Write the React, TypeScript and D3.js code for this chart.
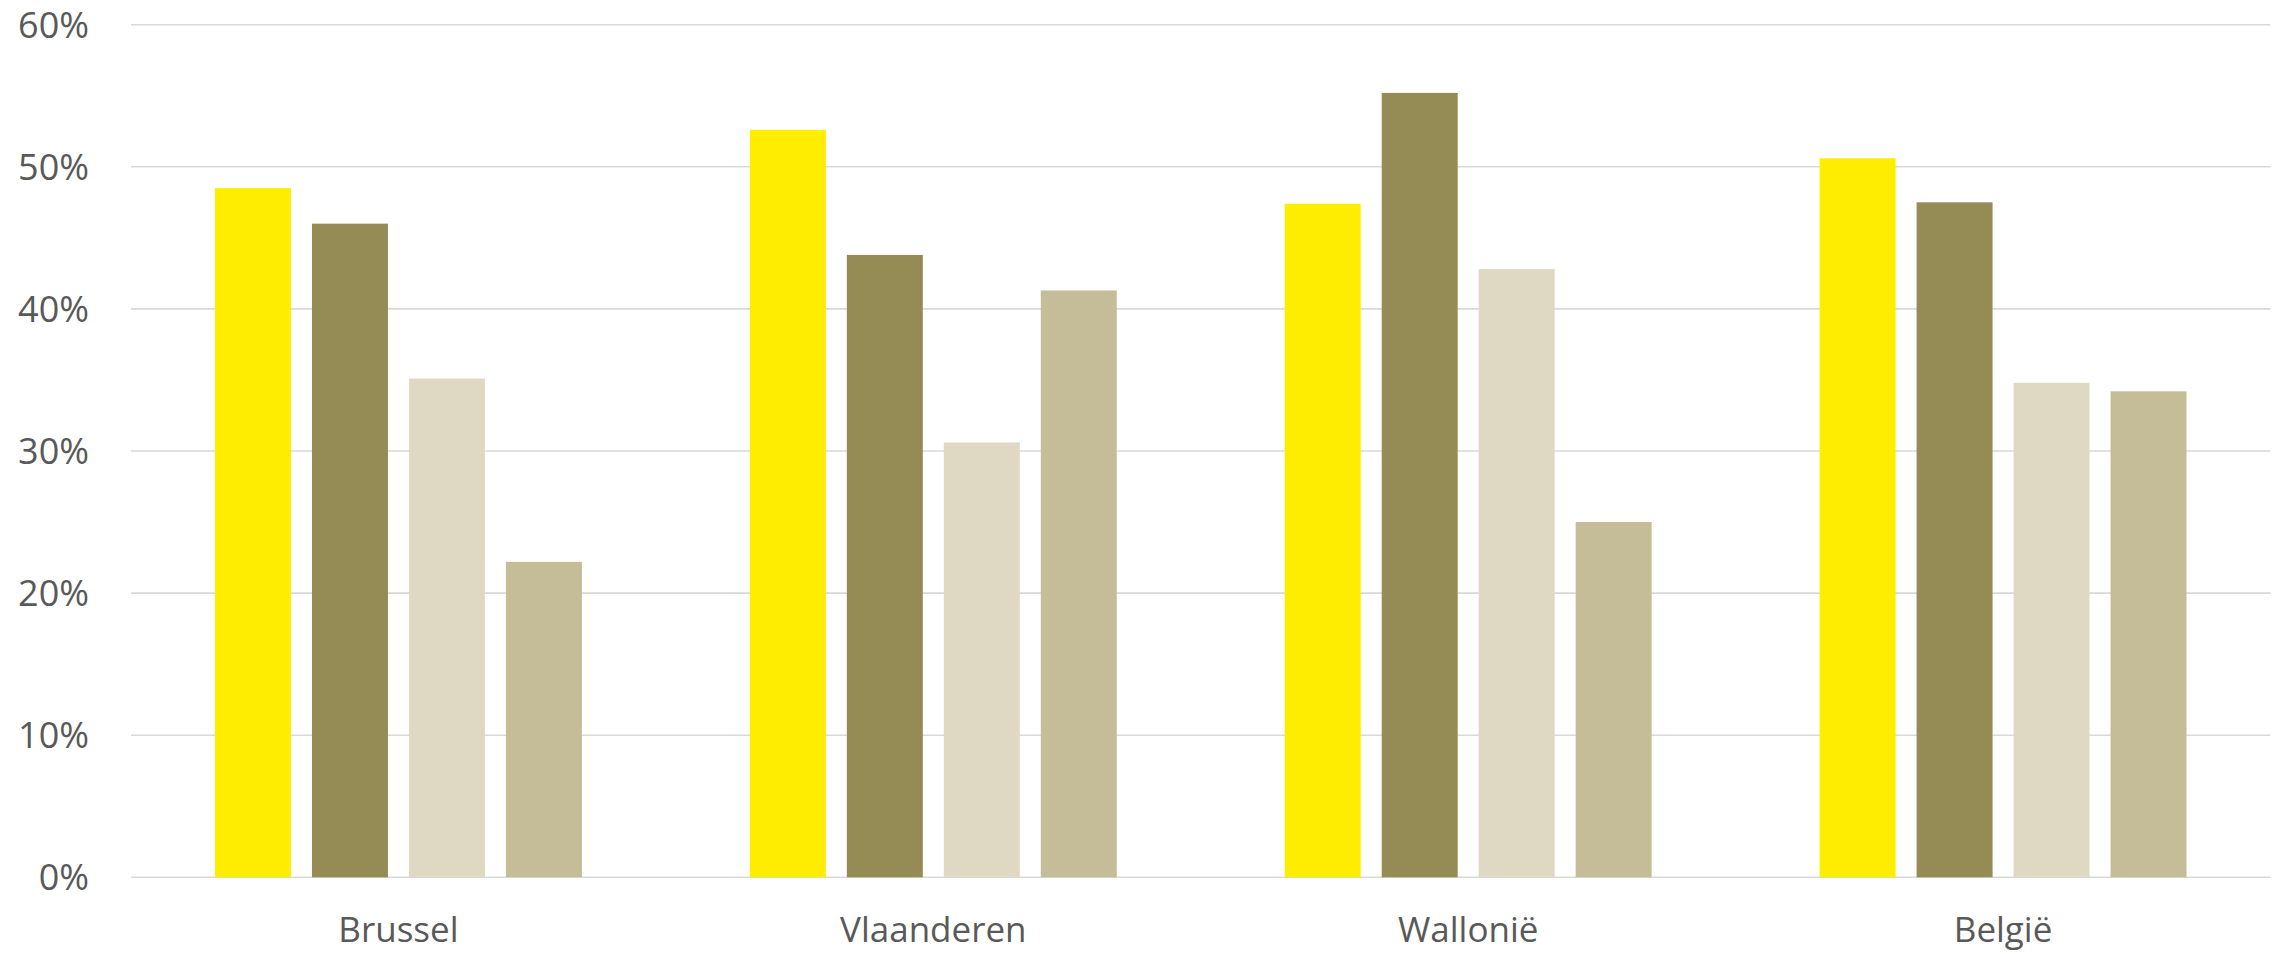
import React, { useEffect } from "react";
import * as d3 from "d3";

const categories = ["Brussel", "Vlaanderen", "Wallonië", "België"];
const seriesNames = ["Reeks 1", "Reeks 2", "Reeks 3", "Reeks 4"];
const series1 = [0.485, 0.526, 0.474, 0.506];
const series2 = [0.46, 0.438, 0.552, 0.475];
const series3 = [0.351, 0.306, 0.428, 0.348];
const series4 = [0.222, 0.413, 0.25, 0.342];
const seriesColors = ["#FFED00", "#958B55", "#DFD9C3", "#C5BD98"];
const yTicks = [0, 0.1, 0.2, 0.3, 0.4, 0.5, 0.6];

const W = 2280;
const H = 954;
const plotLeft = 131;
const plotRight = 2270.5;
const plotTop = 24.7;
const plotBottom = 877.3;
const FONT = "'Open Sans', 'Noto Sans', sans-serif";
const TEXT = "#595959";

export default function App() {
  useEffect(() => {
    document.body.style.margin = "0";
  }, []);

  const values = [series1, series2, series3, series4];
  const x0 = d3.scaleBand<string>().domain(categories).range([plotLeft, plotRight]).padding(0);
  const x1 = d3
    .scaleBand<string>()
    .domain(seriesNames)
    .range([0, x0.bandwidth()])
    .paddingInner(0.2165)
    .paddingOuter(0.866);
  const y = d3.scaleLinear().domain([0, 0.6]).range([plotBottom, plotTop]);
  const fmt = d3.format(".0%");

  return (
    <svg width={W} height={H} style={{ display: "block", background: "#fff" }}>
      <g>
        {yTicks.map((t) => (
          <g key={t}>
            <line x1={plotLeft} x2={plotRight} y1={y(t)} y2={y(t)} stroke="#D9D9D9" strokeWidth={1.6} />
            <text
              x={89}
              y={y(t)}
              dy="0.36em"
              textAnchor="end"
              fontFamily={FONT}
              fontSize={36}
              fill={TEXT}
            >
              {fmt(t)}
            </text>
          </g>
        ))}
      </g>
      <g>
        {categories.map((c, ci) => (
          <g key={c} transform={`translate(${x0(c)},0)`}>
            {seriesNames.map((s, si) => {
              const v = values[si][ci];
              return (
                <rect
                  key={s}
                  x={x1(s)}
                  y={y(v)}
                  width={x1.bandwidth()}
                  height={y(0) - y(v)}
                  fill={seriesColors[si]}
                />
              );
            })}
          </g>
        ))}
      </g>
      <g>
        {categories.map((c) => (
          <text
            key={c}
            x={(x0(c) as number) + x0.bandwidth() / 2}
            y={942}
            textAnchor="middle"
            fontFamily={FONT}
            fontSize={35}
            fill={TEXT}
          >
            {c}
          </text>
        ))}
      </g>
    </svg>
  );
}
